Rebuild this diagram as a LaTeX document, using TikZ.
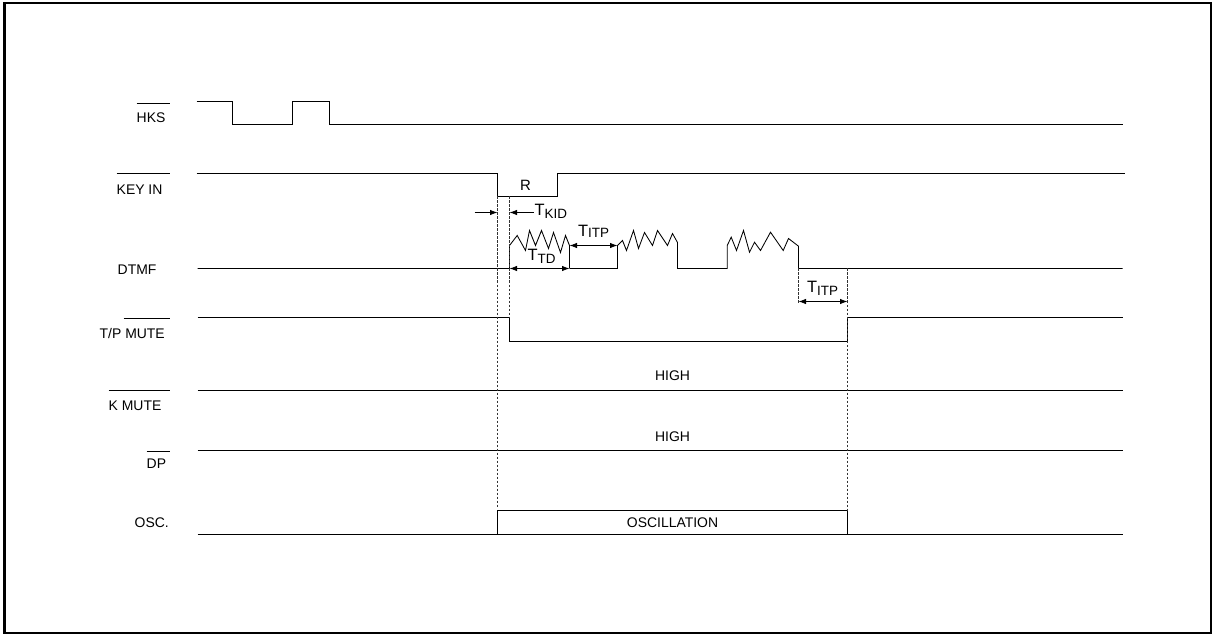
\documentclass[tikz,border=0pt]{standalone}
\usepackage{fontspec}
\setmainfont{Liberation Sans}
\usetikzlibrary{arrows.meta}
\newcommand{\mytsub}[2]{{\fontsize{16.5}{18}\selectfont T}\raisebox{-#2}{\fontsize{13.5}{15}\selectfont #1}}
\begin{document}
\begin{tikzpicture}[x=1bp,y=-1bp,
  wave/.style={line width=0.85bp, line join=miter},
  guide/.style={line width=0.6bp, dash pattern=on 2.5bp off 1.5bp, black!80},
  onearrow/.style={line width=0.85bp, -{Latex[length=7.5bp,width=5.5bp]}},
  twoarrow/.style={line width=0.85bp, {Latex[length=7.5bp,width=5.5bp]}-{Latex[length=7.5bp,width=5.5bp]}},
  siglabel/.style={font=\fontsize{14}{16}\selectfont, inner sep=0pt, anchor=west},
  midlabel/.style={font=\fontsize{14}{16}\selectfont, inner sep=0pt},
  timelabel/.style={inner sep=0pt},
  bar/.style={line width=0.85bp}]
\useasboundingbox (0,0) rectangle (1213,636);
\begin{scope}[shift={(0.5,0.5)}]
\draw[line width=2bp] (4,3) rectangle (1210,632);

% signal labels with overbars
\node[siglabel] (hks) at (136,117) {HKS};
\draw[bar] (136,103) -- (169,103);
\node[siglabel] (keyin) at (116,189) {KEY IN};
\draw[bar] (116,173) -- (169,173);
\node[siglabel] (dtmf) at (117,269) {DTMF};
\node[siglabel] (tpmute) at (99,333) {T/P MUTE};
\draw[bar] (123,318) -- (169,318);
\node[siglabel] (kmute) at (108,405) {K MUTE};
\draw[bar] (108,390) -- (169,390);
\node[siglabel] (dp) at (146,463) {DP};
\draw[bar] (146,451) -- (169,451);
\node[siglabel] (osc) at (134,522) {OSC.};

% waveforms
\draw[wave] (196,101) -- (232,101) -- (232,124) -- (292,124) -- (292,101) -- (329,101) -- (329,124) -- (1122,124);
\draw[wave] (196,173) -- (497,173) -- (497,196) -- (557,196) -- (557,173) -- (1122,173);
\draw[line width=1.2bp] (1039,173) -- (1124,173);
\draw[wave] (197,268) -- (509,268) -- (509,245) -- (516.7,235) -- (525,250) -- (529,230) -- (535,245) -- (541,230) -- (548,248) -- (553,232) -- (560,252) -- (565,235) -- (569,245) -- (569,268);
\draw[wave] (569,268) -- (617,268) -- (617,245) -- (622,240) -- (626,250) -- (633,230) -- (638,248) -- (644,232) -- (652,245) -- (657,230) -- (667,245) -- (672,233) -- (677,242) -- (677,268) -- (726.7,268) -- (726.7,245) -- (730.7,236.7) -- (736,250) -- (743,230) -- (749,251.7) -- (754,241.7) -- (760,250) -- (770,231.7) -- (782.7,250) -- (788,238) -- (798,245.7) -- (798,268) -- (1122,268);
\draw[wave] (197,317) -- (509,317) -- (509,341) -- (847,341) -- (847,317) -- (1122,317);
\draw[wave] (197,390) -- (1122,390);
\draw[wave] (197,450) -- (1122,450);
\draw[wave] (197,534) -- (1122,534);
\draw[wave] (497,534) -- (497,510) -- (847,510) -- (847,534);

% dashed guides
\draw[guide] (497,196) -- (497,508);
\draw[guide] (509,196) -- (509,317);
\draw[guide] (798,268) -- (798,304);
\draw[guide] (847,268) -- (847,510);

% timing arrows
\coordinate (kidl) at (474,212);
\coordinate (kidla) at (497,212);
\coordinate (kidr) at (533,212);
\coordinate (kidra) at (509,212);
\draw[onearrow] (kidl) -- (kidla);
\draw[onearrow] (kidr) -- (kidra);
\node[timelabel, anchor=west] (tkid) at (534,211) {\mytsub{KID}{3pt}};

\coordinate (tda) at (509,268);
\coordinate (tdb) at (569,268);
\draw[twoarrow] (tda) -- (tdb);
\node[timelabel] (ttd) at (541,256) {\mytsub{TD}{3pt}};

\coordinate (itpa) at (569,245);
\coordinate (itpb) at (617,245);
\draw[twoarrow] (itpa) -- (itpb);
\node[timelabel] (titp1) at (593,231) {\mytsub{ITP}{1pt}};

\coordinate (itpc) at (798,301);
\coordinate (itpd) at (847,301);
\draw[twoarrow] (itpc) -- (itpd);
\node[timelabel] (titp2) at (822,288) {\mytsub{ITP}{3pt}};

\node[timelabel, font=\fontsize{15}{17}\selectfont] (r) at (525,185) {R};
\node[midlabel] (high1) at (672,375) {HIGH};
\node[midlabel] (high2) at (672,436) {HIGH};
\node[midlabel] (oscil) at (672,522) {OSCILLATION};
\end{scope}
\end{tikzpicture}
\end{document}
